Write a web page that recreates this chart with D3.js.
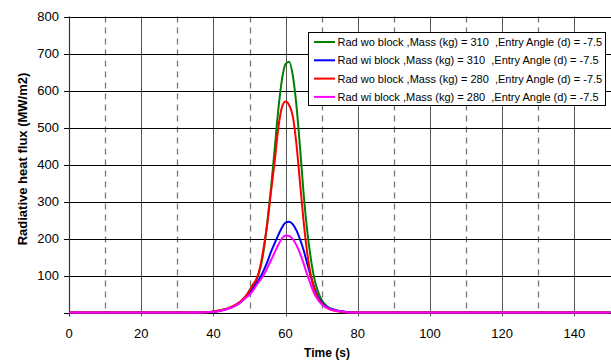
<!DOCTYPE html>
<html>
<head>
<meta charset="utf-8">
<script src="https://cdn.jsdelivr.net/npm/d3@7"></script>
<style>
  body { margin: 0; background: #fff; }
  text { font-family: "Liberation Sans", Arial, sans-serif; }
</style>
</head>
<body>
<div id="chart"></div>
<script>
// time in seconds
const times = [0, 36, 38, 40, 42, 44, 46, 47, 48, 49, 50, 51, 52, 53, 54, 55, 56, 57, 58, 59,
  60, 61, 62, 63, 64, 65, 66, 67, 68, 69, 70, 71, 72, 73, 74, 76, 78, 80, 150];

// radiative heat flux (MW/m2)
const woBlock310 = [0, 0, 1, 3, 6, 11, 20, 26, 34, 44, 57, 72, 90, 120, 172, 250, 340, 445, 550, 630,
  672, 678, 640, 560, 445, 320, 220, 145, 90, 56, 34, 21, 13, 8, 5, 2, 0, 0, 0];
const wiBlock310 = [0, 0, 1, 2, 5, 10, 18, 24, 32, 41, 52, 65, 80, 95, 115, 138, 165, 188, 210, 230,
  243, 245, 238, 222, 198, 168, 132, 97, 66, 42, 27, 18, 12, 9, 6, 3, 1, 0, 0];
const woBlock280 = [0, 0, 1, 3, 6, 11, 20, 26, 35, 45, 60, 76, 92, 125, 180, 245, 330, 410, 500, 555,
  570, 560, 530, 455, 350, 245, 160, 100, 62, 38, 24, 15, 10, 6, 4, 1, 0, 0, 0];
const wiBlock280 = [0, 0, 1, 2, 5, 10, 18, 24, 32, 40, 48, 60, 75, 88, 103, 122, 142, 163, 183, 200,
  208, 207, 198, 182, 160, 132, 102, 74, 50, 34, 22, 15, 10, 7, 5, 2, 0, 0, 0];

const seriesNames = [
  "Rad wo block ,Mass (kg) = 310 \u00a0,Entry Angle (d) = -7.5",
  "Rad wi block ,Mass (kg) = 310 \u00a0,Entry Angle (d) = -7.5",
  "Rad wo block ,Mass (kg) = 280 \u00a0,Entry Angle (d) = -7.5",
  "Rad wi block ,Mass (kg) = 280 \u00a0,Entry Angle (d) = -7.5"
];
const seriesColors = ["#008000", "#0000ff", "#ff0000", "#ff00ff"];
const seriesValues = [woBlock310, wiBlock310, woBlock280, wiBlock280];

const xTicks = [0, 20, 40, 60, 80, 100, 120, 140];
const xDashed = [10, 30, 50, 70, 90, 110, 130];
const yTicks = [100, 200, 300, 400, 500, 600, 700, 800];

const width = 611, height = 360;

const svg = d3.select("#chart").append("svg")
  .attr("width", width)
  .attr("height", height);

const x = d3.scaleLinear().domain([0, 150]).range([69, 610.5]);
const y = d3.scaleLinear().domain([0, 800]).range([312.5, 16.5]);

// dashed verticals
svg.append("g").selectAll("line").data(xDashed).enter().append("line")
  .attr("x1", d => Math.round(x(d)) + 0.5).attr("x2", d => Math.round(x(d)) + 0.5)
  .attr("y1", y(800)).attr("y2", y(0))
  .attr("stroke", "#777").attr("stroke-width", 1.3)
  .attr("stroke-dasharray", "6,5");

// solid verticals
svg.append("g").selectAll("line").data(xTicks.slice(1)).enter().append("line")
  .attr("x1", d => Math.round(x(d)) + 0.5).attr("x2", d => Math.round(x(d)) + 0.5)
  .attr("y1", y(800)).attr("y2", y(0) + 4)
  .attr("stroke", "#555").attr("stroke-width", 1);

// horizontal grid
svg.append("g").selectAll("line").data(yTicks).enter().append("line")
  .attr("x1", x(0) - 5).attr("x2", width)
  .attr("y1", d => Math.round(y(d)) + 0.5).attr("y2", d => Math.round(y(d)) + 0.5)
  .attr("stroke", "#000").attr("stroke-width", 1);

// y axis line + x baseline
svg.append("line")
  .attr("x1", Math.round(x(0)) + 0.5).attr("x2", Math.round(x(0)) + 0.5)
  .attr("y1", y(800)).attr("y2", y(0) + 4)
  .attr("stroke", "#333").attr("stroke-width", 1.2);
svg.append("line")
  .attr("x1", x(0) - 5).attr("x2", width)
  .attr("y1", Math.round(y(0)) + 0.5).attr("y2", Math.round(y(0)) + 0.5)
  .attr("stroke", "#000");

// tick labels
svg.append("g").selectAll("text").data(yTicks).enter().append("text")
  .attr("x", 59).attr("y", d => y(d) + 4.5)
  .attr("text-anchor", "end").attr("font-size", 13)
  .text(d => d);

svg.append("g").selectAll("text").data(xTicks).enter().append("text")
  .attr("x", d => x(d)).attr("y", 338)
  .attr("text-anchor", "middle").attr("font-size", 13)
  .text(d => d);

// axis titles
svg.append("text")
  .attr("x", 327).attr("y", 357)
  .attr("text-anchor", "middle").attr("font-size", 12).attr("font-weight", "bold")
  .text("Time (s)");

svg.append("text")
  .attr("transform", "translate(27,159) rotate(-90)")
  .attr("text-anchor", "middle").attr("font-size", 13).attr("font-weight", "bold")
  .text("Radiative heat flux (MW/m2)");

// curves
const line = d3.line()
  .x((d, i) => x(times[i]))
  .y(d => y(d))
  .curve(d3.curveMonotoneX);

svg.append("g").selectAll("path").data(seriesValues).enter().append("path")
  .attr("d", d => line(d))
  .attr("fill", "none")
  .attr("stroke", (d, i) => seriesColors[i])
  .attr("stroke-width", 2);

// legend
const lg = svg.append("g").attr("transform", "translate(308,32)");
lg.append("rect")
  .attr("x", 0.5).attr("y", 0.5).attr("width", 297).attr("height", 73)
  .attr("fill", "#fff").attr("stroke", "#000");

const rows = lg.selectAll("g.row").data(seriesNames).enter().append("g")
  .attr("class", "row")
  .attr("transform", (d, i) => `translate(0,${10 + i * 18.3})`);
rows.append("line")
  .attr("x1", 6).attr("x2", 27).attr("y1", 0).attr("y2", 0)
  .attr("stroke", (d, i) => seriesColors[i]).attr("stroke-width", 2);
rows.append("text")
  .attr("x", 29.5).attr("y", 4)
  .attr("font-size", 11)
  .text(d => d);
</script>
</body>
</html>
